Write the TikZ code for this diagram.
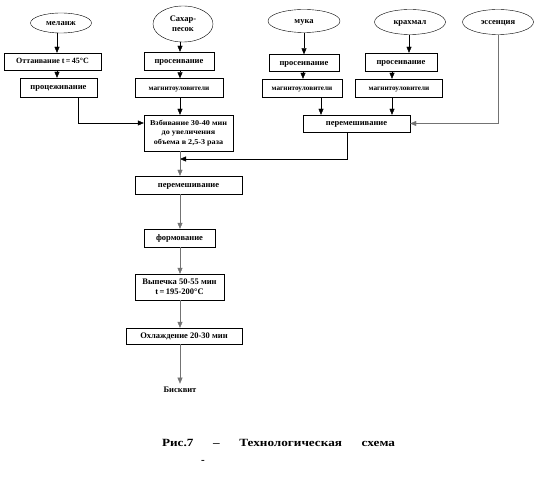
\documentclass[tikz,border=0pt]{standalone}
\usepackage{fontspec}
\setmainfont{Liberation Serif}
\usetikzlibrary{arrows.meta,shapes.geometric,positioning}

\begin{document}
\begin{tikzpicture}[x=1pt,y=-1pt,>={Triangle[length=6pt,width=5pt]},thin,
    font=\bfseries\fontsize{8.5}{9.7}\selectfont]
  \tikzstyle{raw}=[draw,ellipse,inner sep=0pt,text height=1.3ex,text depth=0.3ex]
  \tikzstyle{op}=[draw,rectangle,inner sep=1pt,align=center,text height=1.3ex,text depth=0.3ex]
  \tikzstyle{stack}=[draw,rectangle,inner sep=1pt,align=center]
  \tikzstyle{small}=[font=\bfseries\fontsize{7.2}{8}\selectfont]
  \tikzstyle{faint}=[draw=black!55]

  \useasboundingbox (0,0) rectangle (545,486);

  % raw materials
  \node[raw,minimum width=61,minimum height=20] (melange) at (61,23)  {меланж};
  \node[draw,ellipse,inner sep=0pt,minimum width=60,minimum height=36,align=center] (sugar) at (183,24) {Сахар-\\песок};
  \node[raw,minimum width=72,minimum height=23] (flour)   at (304,21) {мука};
  \node[raw,minimum width=71,minimum height=25] (starch)  at (410,22) {крахмал};
  \node[raw,minimum width=71,minimum height=25] (essence) at (498,22) {эссенция};

  % preparation
  \node[op,minimum width=97,minimum height=17,font=\bfseries\fontsize{8}{9}\selectfont] (thaw) at (52.5,61.5) {Оттаивание t\,=\,45°C};
  \node[op,minimum width=77,minimum height=19] (strain) at (58.5,87.5) {процеживание};
  \node[op,minimum width=70,minimum height=18] (siftA)  at (179,61)   {просеивание};
  \node[op,small,minimum width=88,minimum height=19] (magA) at (179,88) {магнитоуловители};
  \node[op,minimum width=70,minimum height=17] (siftB)  at (304,63)   {просеивание};
  \node[op,small,minimum width=80,minimum height=18] (magB) at (302,88) {магнитоуловители};
  \node[op,minimum width=72,minimum height=18] (siftC)  at (401,62)   {просеивание};
  \node[op,small,minimum width=87,minimum height=18] (magC) at (399,88) {магнитоуловители};

  % processing
  \node[op,minimum width=107,minimum height=17] (mixdry) at (356.5,123.5) {перемешивание};
  \node[stack,minimum width=89,minimum height=36,font=\bfseries\fontsize{7.4}{9.7}\selectfont\addfontfeature{FakeStretch=1.1}] (whip) at (188.5,133)
       {Взбивание 30-40 мин\\до увеличения\\объема в 2,5-3 раза};
  \node[op,minimum width=107,minimum height=18] (mix)  at (188.5,185) {перемешивание};
  \node[op,minimum width=71,minimum height=18]  (form) at (179.5,238) {формование};
  \node[stack,minimum width=89,minimum height=26] (bake) at (179.5,287) {Выпечка 50-55 мин\\t\,=\,195-200°C};
  \node[op,minimum width=116,minimum height=16] (cool) at (184,336)   {Охлаждение 20-30 мин};
  \node (biscuit) at (180,390) {Бисквит};

  \coordinate (axis)  at (180,0);
  \coordinate (merge) at (180,159);

  % arrows
  \draw[->] (melange.south -| 57,0) -- (thaw.north -| 57,0);
  \draw[->] (thaw.south -| 57,0) -- (strain.north -| 57,0);
  \draw[->] (strain.south -| 78,0) |- ([yshift=10pt]whip.west);
  \draw[->] (sugar.south -| axis) -- (siftA.north -| axis);
  \draw[->] (siftA.south -| axis) -- (magA.north -| axis);
  \draw[->] (magA.south -| axis) -- (whip.north -| axis);
  \draw[->] (flour) -- (siftB);
  \draw[->] (siftB.south -| 303,0) -- (magB.north -| 303,0);
  \draw[->] (magB.south -| 321,0) -- (mixdry.north -| 321,0);
  \draw[->] (starch.south -| 409,0) -- (siftC.north -| 409,0);
  \draw[->] (siftC.south -| 392,0) -- (magC.north -| 392,0);
  \draw[->] (magC.south -| 392,0) -- (mixdry.north -| 392,0);
  \draw[->,faint] (essence.south) |- (mixdry.east);
  \draw[->] (mixdry.south -| 347,0) |- (merge);
  \draw[->,faint] (whip.south -| axis) -- (mix.north -| axis);
  \draw[->,faint] (mix.south -| axis) -- (form.north -| axis);
  \draw[->,faint] (form.south -| axis) -- (bake.north -| axis);
  \draw[->,faint] (bake.south -| axis) -- (cool.north -| axis);
  \draw[->,faint] (cool.south -| axis) -- (biscuit.north -| axis);

  % caption
  \node[text width=233pt,inner sep=0pt,font=\bfseries\fontsize{11}{13}\selectfont\addfontfeature{FakeStretch=1.2}] (caption) at (278.5,443)
       {Рис.7\hfill–\hfill Технологическая\hfill схема};
  \node[font=\bfseries\fontsize{11}{12}\selectfont] (dash) at (203,462) {-};
\end{tikzpicture}
\end{document}
